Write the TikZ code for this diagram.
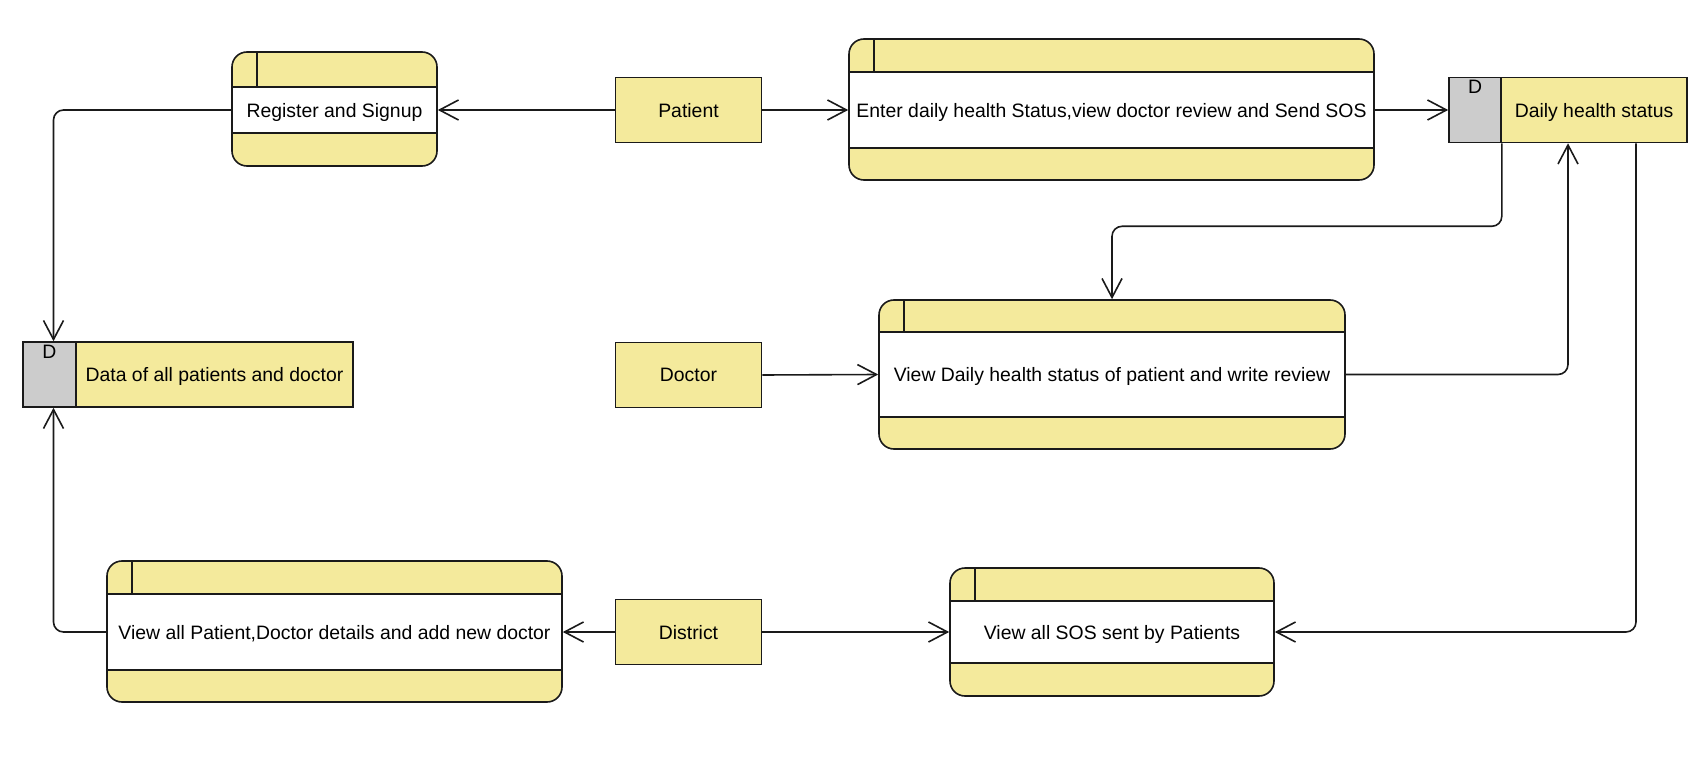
\documentclass[tikz,border=0pt]{standalone}
\usepackage{fontspec}
\setmainfont{Liberation Sans}
\usetikzlibrary{arrows.meta}
\definecolor{boxyellow}{HTML}{F4EA9C}
\definecolor{storegray}{HTML}{CCCCCC}
\definecolor{edge}{HTML}{1A1A1A}
\begin{document}
\begin{tikzpicture}[x=1pt, y=-1pt, line width=1.6pt,
        font=\fontsize{19.4}{23}\selectfont,
        proc/.style={draw=edge, fill=boxyellow, rounded corners=15pt, inner sep=0pt},
        procmid/.style={draw=edge, fill=white, inner sep=0pt, text depth=0pt},
        entity/.style={draw=edge, fill=boxyellow, inner sep=0pt, text depth=0pt, minimum width=146pt, minimum height=65pt},
        storeD/.style={draw=edge, fill=storegray, inner sep=0pt, minimum height=65pt},
        store/.style={draw=edge, fill=boxyellow, inner sep=0pt, text depth=0pt, minimum height=65pt},
        flow/.style={draw=edge, -{Straight Barb[length=19pt,width=20pt]}, rounded corners=10pt}]
        \useasboundingbox (0,0) rectangle (1708,759);

        %processes
       \node[proc, minimum width=205pt, minimum height=114pt] (regbox) at (334.5,109) {};
       \node[procmid, minimum width=205pt, minimum height=46pt] (reg) at (334.5,110) {Register and Signup};
       \draw[edge] ([xshift=26pt]regbox.north west) -- ++(0,35);

       \node[proc, minimum width=525pt, minimum height=141pt] (entbox) at (1111.5,109.5) {};
       \node[procmid, minimum width=525pt, minimum height=76pt] (ent) at (1111.5,110) {Enter daily health Status,view doctor review and Send SOS};
       \draw[edge] ([xshift=26pt]entbox.north west) -- ++(0,33);

       \node[proc, minimum width=466pt, minimum height=149pt] (vdrbox) at (1112,374.5) {};
       \node[procmid, minimum width=466pt, minimum height=85pt] (vdr) at (1112,374.5) {View Daily health status of patient and write review};
       \draw[edge] ([xshift=26pt]vdrbox.north west) -- ++(0,32);

       \node[proc, minimum width=455pt, minimum height=141pt] (vapbox) at (334.5,631.5) {};
       \node[procmid, minimum width=455pt, minimum height=76pt] (vap) at (334.5,632) {View all Patient,Doctor details and add new doctor};
       \draw[edge] ([xshift=26pt]vapbox.north west) -- ++(0,33);

       \node[proc, minimum width=324pt, minimum height=128pt] (sosbox) at (1112,632) {};
       \node[procmid, minimum width=324pt, minimum height=62pt] (sos) at (1112,632) {View all SOS sent by Patients};
       \draw[edge] ([xshift=26pt]sosbox.north west) -- ++(0,33);

        %entities
       \node[entity] (pat) at (688.5,110) {Patient};
       \node[entity] (doc) at (688.5,375) {Doctor};
       \node[entity] (dist) at (688.5,632) {District};

        %data stores
       \node[storeD, minimum width=53pt] (datD) at (49.5,374.5) {};
       \node[store, minimum width=277pt] (dat) at (214.5,374.5) {Data of all patients and doctor};
       \node[anchor=north, inner sep=3pt] (datL) at (datD.north) {D};
       \node[storeD, minimum width=52pt] (dsD) at (1475,110) {};
       \node[store, minimum width=186pt] (ds) at (1594,110) {Daily health status};
       \node[anchor=north, inner sep=3pt] (dsL) at (dsD.north) {D};

        %flows
       \draw[flow] (pat.west) -- (reg.east);
       \draw[flow] (pat.east) -- (ent.west);
       \draw[flow] (ent.east) -- (dsD.west);
       \draw[flow] (reg.west) -| ([xshift=4pt]datD.north);
       \draw[flow] (dsD.south east) -- ++(0,83) -| (vdrbox.north);
       \draw[flow] (vdr.east) -| ([xshift=-26pt]ds.south);
       \draw[flow] ([xshift=42pt]ds.south) |- (sos.east);
       \draw[flow] (doc.east) -- (vdr.west);
       \draw[flow] (dist.west) -- (vap.east);
       \draw[flow] (dist.east) -- (sos.west);
       \draw[flow] (vap.west) -| ([xshift=4pt]datD.south);

\end{tikzpicture}
\end{document}
